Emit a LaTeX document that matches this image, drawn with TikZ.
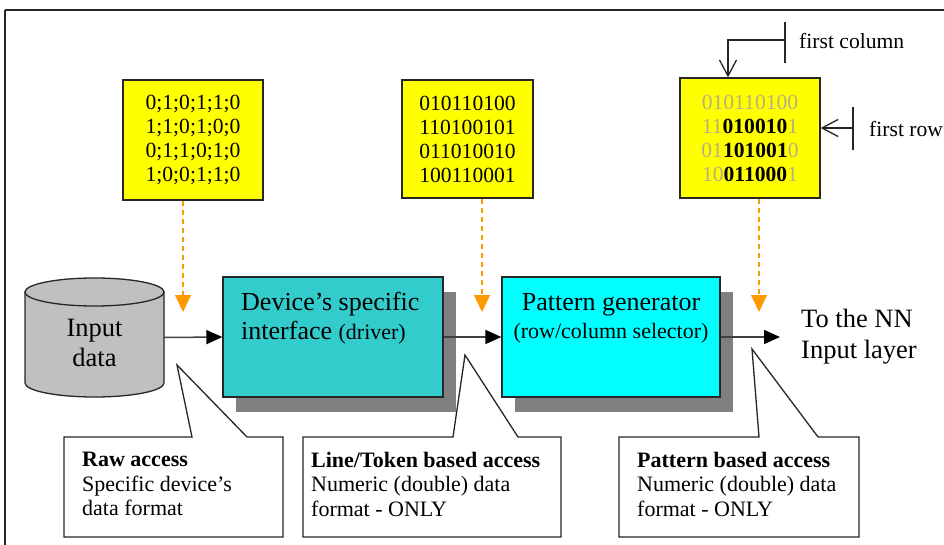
\documentclass[tikz,border=0pt]{standalone}
\usepackage{fontspec}
\setmainfont{Liberation Serif}
\usetikzlibrary{arrows.meta,shadows}
\definecolor{padyellow}{HTML}{FFFF00}
\definecolor{devteal}{HTML}{33CCCC}
\definecolor{patcyan}{HTML}{00FFFF}
\definecolor{cylgray}{HTML}{C0C0C0}
\definecolor{shadegray}{HTML}{808080}
\definecolor{feedorange}{HTML}{FF9900}
\definecolor{fadedbit}{HTML}{B8B07E}
\definecolor{edgedark}{HTML}{262626}
\begin{document}
\begin{tikzpicture}[x=1pt,y=-1pt,
  datapad/.style={draw=edgedark, line width=1.3pt, fill=padyellow, inner sep=0pt,
    align=center, font=\fontsize{21.6}{24}\selectfont},
  stagebox/.style={draw=edgedark, line width=1.3pt, inner sep=0pt,
    minimum height=120pt,
    drop shadow={shadow xshift=13pt, shadow yshift=-15pt, fill=shadegray, opacity=1}},
  flow/.style={draw=black!75, line width=1.5pt, -{Triangle[length=16pt,width=14pt,black]}},
  feed/.style={draw=feedorange, line width=1.3pt, dash pattern=on 5pt off 4pt,
    -{Triangle[length=17pt,width=16pt,fill=feedorange]}},
  pick/.style={draw=edgedark, line width=1.3pt, -{Straight Barb[length=16pt,width=17pt]}},
  callout/.style={draw=edgedark, line width=1.3pt, fill=white},
  calltext/.style={anchor=west, align=left, inner sep=0pt, font=\fontsize{22}{24.5}\selectfont},
  plain/.style={inner sep=0pt}]

\useasboundingbox (0,0) rectangle (944,545);

% frame
\draw[line width=2.6pt, black!85] (5,10) -- (944,10);
\draw[line width=2pt, black!85] (5,10) -- (5,545);

% callouts
\draw[callout] (64,437) -- (192,437) -- (177,365) -- (247,437) -- (283,437)
  -- (283,537) -- (64,537) -- cycle;
\draw[callout] (303,437) -- (453,437) -- (465,355) -- (518,437) -- (561,437)
  -- (561,537) -- (303,537) -- cycle;
\draw[callout] (619,437) -- (759,437) -- (752,349) -- (818,437) -- (859,437)
  -- (859,537) -- (619,537) -- cycle;
\node[calltext] (c1) at (82,484) {\textbf{Raw access}\\Specific device’s\\data format};
\node[calltext] (c2) at (311,484) {\textbf{Line/Token based access}\\Numeric (double) data\\format - ONLY};
\node[calltext] (c3) at (637,484) {\textbf{Pattern based access}\\Numeric (double) data\\format - ONLY};

% data pads
\node[datapad, minimum width=140pt, minimum height=120pt] (y1) at (193,140)
  {0;1;0;1;1;0\\1;1;0;1;0;0\\0;1;1;0;1;0\\1;0;0;1;1;0};
\node[datapad, minimum width=131pt, minimum height=118pt] (y2) at (467.5,139)
  {010110100\\110100101\\011010010\\100110001};
\node[datapad, minimum width=140pt, minimum height=120pt] (y3) at (750,138)
  {\textcolor{fadedbit}{010110100}\\
   \textcolor{fadedbit}{11}\textbf{010010}\textcolor{fadedbit}{1}\\
   \textcolor{fadedbit}{01}\textbf{101001}\textcolor{fadedbit}{0}\\
   \textcolor{fadedbit}{10}\textbf{011000}\textcolor{fadedbit}{1}};

% input cylinder
\node[plain, minimum width=139pt, minimum height=119pt] (db) at (94.5,337.5) {};
\draw[fill=cylgray, draw=edgedark, line width=1.3pt] (25,292) -- (25,383)
  arc[start angle=180, end angle=360, x radius=69.5pt, y radius=14pt] -- (164,292) -- cycle;
\draw[fill=cylgray, draw=edgedark, line width=1.3pt] (94.5,292) ellipse[x radius=69.5pt, y radius=14pt];
\node[plain, align=center, font=\fontsize{26.5}{30}\selectfont] (dbtext) at (94.5,343) {Input\\data};

% stages
\node[stagebox, fill=devteal, minimum width=220pt] (dev) at (333,337) {};
\node[plain, anchor=west, align=left, font=\fontsize{26}{29}\selectfont] (devtext) at (241,318)
  {Device’s specific\\interface {\fontsize{22}{29}\selectfont(driver)}};
\node[stagebox, fill=patcyan, minimum width=218pt] (pat) at (611,337) {};
\node[plain, align=center, font=\fontsize{26}{28}\selectfont] (pattext) at (611,318)
  {Pattern generator\\{\fontsize{22}{28}\selectfont(row/column selector)}};

\coordinate (nnin) at (780,337);
\node[plain, anchor=west, align=left, font=\fontsize{26.5}{31}\selectfont] (nn) at (801,337)
  {To the NN\\Input layer};

% data flow
\draw[flow] (db.east) -- (dev.west);
\draw[flow] (dev.east) -- (pat.west);
\draw[flow] (pat.east) -- (nnin);

% feeds from the pads
\coordinate (f1) at (183,312);
\coordinate (f2) at (482,312);
\coordinate (f3) at (759,312);
\draw[feed] (y1.south -| f1) -- (f1);
\draw[feed] (y2.south -| f2) -- (f2);
\draw[feed] (y3.south -| f3) -- (f3);

% first column / first row markers
\coordinate (fcbar) at (785,40);
\coordinate (fcx) at (728,40);
\coordinate (frbar) at (853,128);
\draw[draw=edgedark, line width=1.3pt] (785,22) -- (785,63);
\draw[pick] (fcbar) -| (y3.north -| fcx);
\node[plain, anchor=west, font=\fontsize{21.6}{24}\selectfont] (fctext) at (799,41) {first column};
\draw[draw=edgedark, line width=1.3pt] (853,107) -- (853,150);
\draw[pick] (frbar) -- (y3.east |- frbar);
\node[plain, anchor=west, font=\fontsize{21.6}{24}\selectfont] (frtext) at (869,129) {first row};
\end{tikzpicture}
\end{document}
